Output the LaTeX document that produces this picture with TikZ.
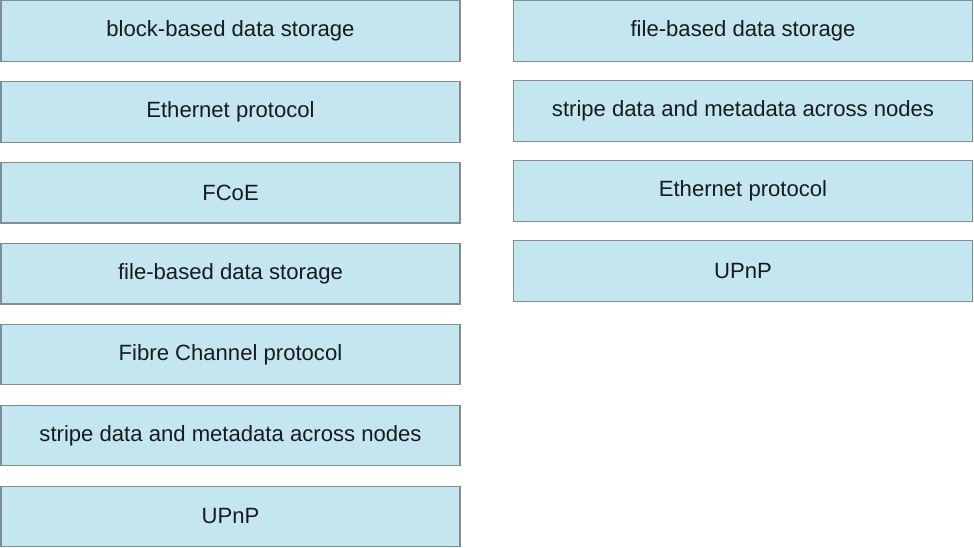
\documentclass[tikz,border=0pt]{standalone}
\usepackage{fontspec}
\setmainfont{Liberation Sans}
\usetikzlibrary{positioning}
\definecolor{boxfill}{RGB}{196,230,240}
\definecolor{boxline}{RGB}{128,142,146}
\definecolor{boxtext}{RGB}{24,26,28}
\tikzset{main base/.style={draw=boxline,line width=1.2pt,text=boxtext,text centered, }, }
\tikzset{main node/.style={rectangle,fill=boxfill,main base,font=\fontsize{22.1}{24}\selectfont,
    minimum width=459pt,minimum height=60.5pt,inner sep=0pt}, }

\begin{document}
\begin{tikzpicture}[x=1pt,y=1pt]
  \useasboundingbox (0,0) rectangle (974,-548);
  % left column
  \begin{scope}[node distance=19.2pt]
    \node[main node] (1) at (230.5,-31)  {block-based data storage};
    \node[main node] (2) [below=of 1]  {Ethernet protocol};
    \node[main node] (3) [below=of 2]  {FCoE};
    \node[main node] (4) [below=of 3]  {file-based data storage};
    \node[main node] (5) [below=of 4]  {Fibre Channel protocol};
    \node[main node] (6) [below=of 5]  {stripe data and metadata across nodes};
    \node[main node] (7) [below=of 6]  {UPnP};
  \end{scope}
%
  % right column
  \begin{scope}[node distance=18.3pt]
    \node[main node] (8) at (743,-31)  {file-based data storage};
    \node[main node] (9) [below=of 8]  {stripe data and metadata across nodes};
    \node[main node] (10) [below=of 9]  {Ethernet protocol};
    \node[main node] (11) [below=of 10]  {UPnP};
  \end{scope}
%
\end{tikzpicture}
\end{document}
